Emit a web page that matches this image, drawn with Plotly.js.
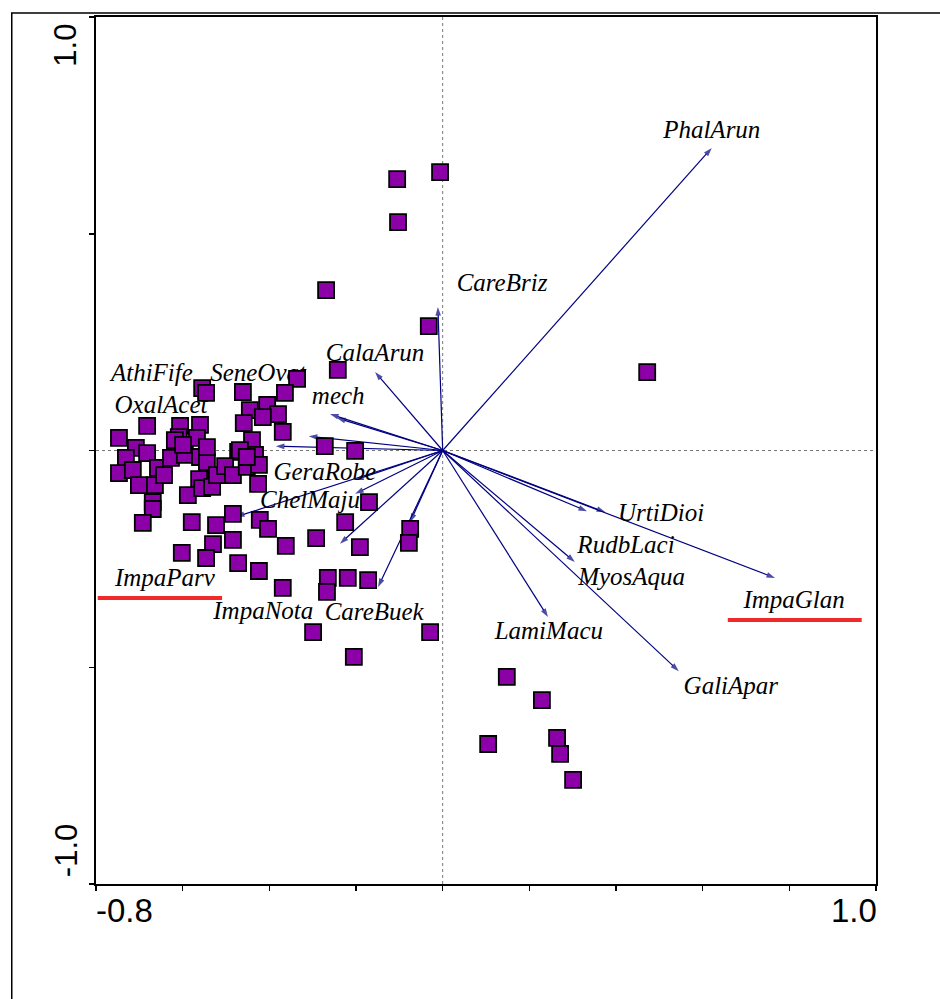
<!DOCTYPE html>
<html>
<head>
<meta charset="utf-8">
<script src="https://cdn.plot.ly/plotly-3.0.1.min.js"></script>
<style>
  html, body { margin: 0; padding: 0; background: #ffffff; }
  #chart { width: 940px; height: 999px; }
</style>
</head>
<body>
<div id="chart"></div>
<script>
// ---- Data ----
// Sample (site) scores
var siteX = [
  -0.006, -0.105, -0.103, -0.269, -0.032, 0.472, -0.242,
  -0.336, -0.461, -0.364, -0.405, -0.445, -0.380, -0.415, -0.459, -0.369, -0.440, -0.272, -0.202, -0.472, -0.433,
  -0.555, -0.546, -0.682, -0.747, -0.606, -0.560, -0.609, -0.567, -0.708, -0.682, -0.731, -0.747, -0.715, -0.701,
  -0.664, -0.657, -0.643, -0.627, -0.595, -0.560, -0.544, -0.562, -0.588, -0.555, -0.532, -0.521, -0.502, -0.484,
  -0.452, -0.424, -0.426, -0.669, -0.618, -0.544, -0.599, -0.468, -0.452,
  -0.669, -0.692, -0.579, -0.523, -0.484, -0.422, -0.403, -0.484, -0.530, -0.546, -0.602, -0.472, -0.424, -0.362,
  -0.292, -0.225, -0.170, -0.191, -0.265, -0.267, -0.219, -0.172, -0.369, -0.299, -0.205,
  -0.075, -0.078, -0.029,
  0.148, 0.229, 0.264, 0.271, 0.301, 0.105
];
var siteY = [
  0.642, 0.626, 0.527, 0.370, 0.287, 0.181, 0.186,
  0.165, 0.135, 0.133, 0.105, 0.093, 0.084, 0.077, 0.063, 0.043, 0.024, 0.010, -0.001, -0.003, -0.010,
  0.144, 0.133, 0.057, 0.029, 0.057, 0.059, 0.031, 0.029, 0.006, -0.006, -0.017, -0.052, -0.045, -0.080,
  -0.080, -0.040, -0.057, -0.017, -0.010, -0.015, -0.027, -0.066, -0.103, -0.087, -0.084, -0.057, -0.036, -0.057,
  -0.038, -0.033, -0.077, -0.119, 0.024, 0.008, 0.013, 0.001, -0.015,
  -0.135, -0.167, -0.165, -0.172, -0.146, -0.160, -0.181, -0.206, -0.216, -0.248, -0.236, -0.260, -0.278, -0.220,
  -0.202, -0.165, -0.119, -0.223, -0.294, -0.326, -0.294, -0.299, -0.317, -0.419, -0.476,
  -0.181, -0.213, -0.419,
  -0.522, -0.576, -0.663, -0.700, -0.760, -0.677
];

// Species arrows (tip coordinates; arrows start at the origin)
var arrowX = [0.621, -0.011, -0.156, -0.260, -0.244, -0.309, -0.385, -0.202, -0.202, -0.237, -0.477, -0.149, -0.075,
              0.333, 0.375, 0.305, 0.243, 0.545, 0.767];
var arrowY = [0.698, 0.331, 0.181, 0.084, 0.075, 0.033, 0.010, -0.068, -0.100, -0.215, -0.153, -0.315, -0.165,
              -0.140, -0.142, -0.257, -0.384, -0.509, -0.294];

// Species labels
var labelText = ["PhalArun", "CareBriz", "CalaArun", "SeneOvat", "AthiFife", "OxalAcet", "mech",
                 "GeraRobe", "ChelMaju", "ImpaParv", "ImpaNota", "CareBuek",
                 "UrtiDioi", "RudbLaci", "MyosAqua", "LamiMacu", "ImpaGlan", "GaliApar"];
var labelX = [0.621, 0.137, -0.156, -0.426, -0.671, -0.650, -0.241,
              -0.272, -0.306, -0.641, -0.414, -0.158,
              0.504, 0.423, 0.436, 0.245, 0.811, 0.665];
var labelY = [0.735, 0.382, 0.220, 0.174, 0.174, 0.100, 0.121,
              -0.054, -0.119, -0.299, -0.375, -0.377,
              -0.149, -0.223, -0.296, -0.421, -0.349, -0.548];

// Axis tick values and the two labelled ends
var xTicks = [-0.8, -0.6, -0.4, -0.2, 0.0, 0.2, 0.4, 0.6, 0.8, 1.0];
var yTicks = [-1.0, -0.5, 0.0, 0.5, 1.0];
var xEndLabels = ["-0.8", "1.0"];
var yEndLabels = ["1.0", "-1.0"];

// Highlighted (underlined) species
var underlineX0 = [-0.796, 0.658];
var underlineX1 = [-0.509, 0.967];
var underlineY = [-0.340, -0.391];

// ---- Build traces ----
var ax = [], ay = [], asym = [], asize = [];
for (var i = 0; i < arrowX.length; i++) {
  ax.push(0, arrowX[i], null);
  ay.push(0, arrowY[i], null);
  asym.push('circle', 'arrow', 'circle');
  asize.push(0, 9, 0);
}

var arrowTrace = {
  type: 'scatter', mode: 'lines+markers', x: ax, y: ay,
  line: { color: '#000080', width: 1.2 },
  marker: { symbol: asym, size: asize, color: '#000080', angleref: 'previous', line: { width: 0 } },
  connectgaps: false, hoverinfo: 'skip', showlegend: false, cliponaxis: false
};

var labelTrace = {
  type: 'scatter', mode: 'text', x: labelX, y: labelY, text: labelText,
  textposition: 'middle center',
  textfont: { family: 'Liberation Serif, Times New Roman, serif', size: 25, color: '#000000', style: 'italic' },
  hoverinfo: 'skip', showlegend: false, cliponaxis: false
};

var siteTrace = {
  type: 'scatter', mode: 'markers', x: siteX, y: siteY,
  marker: { symbol: 'square', size: 16, color: '#8c00a8', line: { color: '#000000', width: 1.8 } },
  hoverinfo: 'skip', showlegend: false
};

var shapes = [
  { type: 'line', xref: 'x', yref: 'y', x0: 0, x1: 0, y0: -1, y1: 1, layer: 'below',
    line: { color: '#777777', width: 1, dash: 'dot' } },
  { type: 'line', xref: 'x', yref: 'y', x0: -0.8, x1: 1.0, y0: 0, y1: 0, layer: 'below',
    line: { color: '#777777', width: 1, dash: 'dot' } },
  { type: 'rect', xref: 'paper', yref: 'paper', x0: -0.108, x1: 1.3, y0: -0.3, y1: 1.0046, layer: 'below',
    line: { color: '#000000', width: 1.5 } }
];
for (var k = 0; k < underlineX0.length; k++) {
  shapes.push({ type: 'line', xref: 'x', yref: 'y', x0: underlineX0[k], x1: underlineX1[k],
    y0: underlineY[k], y1: underlineY[k], layer: 'above',
    line: { color: '#f02a2a', width: 4 } });
}

var tickFont = { family: 'Liberation Sans, Arial, sans-serif', size: 33, color: '#000000' };
var yTickFont = { family: 'Liberation Sans, Arial, sans-serif', size: 31, color: '#000000' };
var annotations = [
  { xref: 'x', yref: 'paper', x: xTicks[0], y: -0.031, xanchor: 'left', yanchor: 'middle',
    text: xEndLabels[0], showarrow: false, font: tickFont, xshift: -2 },
  { xref: 'x', yref: 'paper', x: xTicks[xTicks.length - 1], y: -0.031, xanchor: 'right', yanchor: 'middle',
    text: xEndLabels[1], showarrow: false, font: tickFont, xshift: 3 },
  { xref: 'paper', yref: 'paper', x: -0.0385, y: 0.968, xanchor: 'center', yanchor: 'middle',
    text: yEndLabels[0], textangle: -90, showarrow: false, font: yTickFont },
  { xref: 'paper', yref: 'paper', x: -0.0385, y: 0.039, xanchor: 'center', yanchor: 'middle',
    text: yEndLabels[1], textangle: -90, showarrow: false, font: yTickFont }
];

var axisCommon = {
  showgrid: false, zeroline: false, showticklabels: false,
  ticks: 'outside', ticklen: 5, tickwidth: 1.5, tickcolor: '#000000',
  showline: true, linewidth: 2, linecolor: '#000000', mirror: true,
  fixedrange: true
};

var layout = {
  width: 940, height: 999,
  margin: { l: 96, r: 64, t: 17, b: 115, pad: 0 },
  paper_bgcolor: '#ffffff', plot_bgcolor: '#ffffff',
  xaxis: Object.assign({}, axisCommon, { range: [-0.8, 1.0], tickmode: 'array', tickvals: xTicks }),
  yaxis: Object.assign({}, axisCommon, { range: [-1.0, 1.0], tickmode: 'array', tickvals: yTicks }),
  shapes: shapes,
  annotations: annotations,
  showlegend: false
};

Plotly.newPlot('chart', [arrowTrace, labelTrace, siteTrace], layout, { staticPlot: true, displayModeBar: false });
</script>
</body>
</html>
